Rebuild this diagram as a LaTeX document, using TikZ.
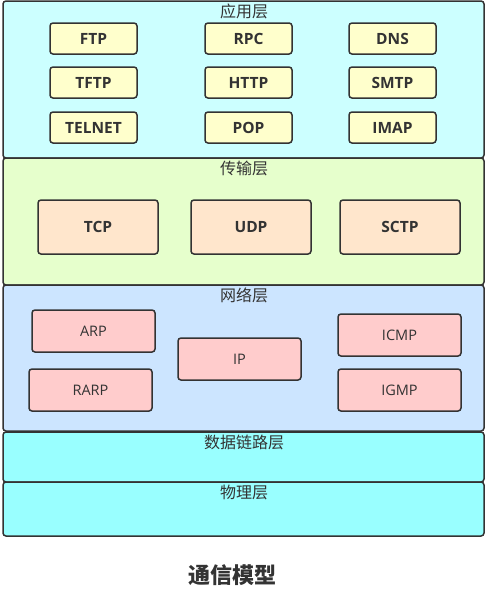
\documentclass[tikz,border=0pt]{standalone}
\usepackage{fontspec}
\setmainfont{Open Sans}
\newfontfamily\cjk{Noto Sans CJK SC}
\definecolor{strk}{HTML}{333333}
\definecolor{appbg}{HTML}{CCFFFF}
\definecolor{appbox}{HTML}{FFFFCC}
\definecolor{trbg}{HTML}{E6FFCC}
\definecolor{trbox}{HTML}{FFE6CC}
\definecolor{netbg}{HTML}{CCE5FF}
\definecolor{netbox}{HTML}{FFCCCC}
\definecolor{lowbg}{HTML}{99FFFF}
\begin{document}
\begin{tikzpicture}[x=1pt,y=-1pt,
  layer/.style={draw=strk, line width=1.5pt, rounded corners=3pt, minimum width=481pt, inner sep=0pt},
  layertitle/.style={text=strk, font=\cjk\fontsize{16}{16}\selectfont, inner sep=0pt},
  proto/.style={draw=strk, line width=1.5pt, rounded corners=3pt, inner sep=0pt, text=strk},
  appp/.style={proto, fill=appbox, minimum width=87pt, minimum height=31pt, font=\bfseries\fontsize{15.5}{15.5}\selectfont},
  trp/.style={proto, fill=trbox, minimum width=120pt, minimum height=54pt, font=\bfseries\fontsize{15.5}{15.5}\selectfont},
  netp/.style={proto, fill=netbox, minimum width=123pt, minimum height=42pt, font=\fontsize{14.5}{14.5}\selectfont}
]
\useasboundingbox (0,0) rectangle (489,592);
% layers
\node[layer, fill=appbg, minimum height=157pt] (app) at (243.5,79.5) {};
\node[layer, fill=trbg, minimum height=127pt] (tr) at (243.5,221.5) {};
\node[layer, fill=netbg, minimum height=146pt] (net) at (243.5,358) {};
\node[layer, fill=lowbg, minimum height=50pt] (dl) at (243.5,457) {};
\node[layer, fill=lowbg, minimum height=54pt] (ph) at (243.5,509) {};
% layer titles
\node[layertitle] (appt) at (244,11.5) {应用层};
\node[layertitle] (trt) at (244,168) {传输层};
\node[layertitle] (nett) at (244,295) {网络层};
\node[layertitle] (dlt) at (244,442) {数据链路层};
\node[layertitle] (pht) at (244,492) {物理层};
% application protocols
\node[appp] (ftp) at (93.5,38.5) {FTP};
\node[appp] (rpc) at (248.5,38.5) {RPC};
\node[appp] (dns) at (392.5,38.5) {DNS};
\node[appp] (tftp) at (93.5,82.5) {TFTP};
\node[appp] (http) at (248.5,82.5) {HTTP};
\node[appp] (smtp) at (392.5,82.5) {SMTP};
\node[appp] (telnet) at (93.5,127.5) {TELNET};
\node[appp] (pop) at (248.5,127.5) {POP};
\node[appp] (imap) at (392.5,127.5) {IMAP};
% transport protocols
\node[trp] (tcp) at (98,227) {TCP};
\node[trp] (udp) at (251,227) {UDP};
\node[trp] (sctp) at (400,227) {SCTP};
% network protocols
\node[netp] (arp) at (93.5,331) {ARP};
\node[netp] (rarp) at (90.5,390) {RARP};
\node[netp] (ip) at (239.5,359) {IP};
\node[netp] (icmp) at (399.5,335) {ICMP};
\node[netp] (igmp) at (399.5,390) {IGMP};
% caption
\node[text=strk, font=\cjk\bfseries\fontsize{22}{22}\selectfont, inner sep=0pt] (cap) at (232,575) {通信模型};
\end{tikzpicture}
\end{document}
